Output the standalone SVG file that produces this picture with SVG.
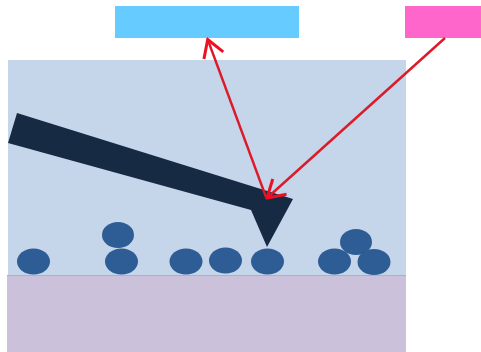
<svg xmlns="http://www.w3.org/2000/svg" width="481" height="352" viewBox="0 0 481 352">
  <defs>
    <style>
      .particle { fill: #2e5c94; }
      .arrow { stroke: #dc1a28; stroke-width: 2.4; fill: none; }
    </style>
    <marker id="head" markerUnits="userSpaceOnUse" viewBox="-20 -12 22 24" markerWidth="22" markerHeight="24" refX="0" refY="0" orient="auto">
      <path d="M-17,-10.3 L0,0 L-17,10.3" fill="none" stroke="#ee1020" stroke-width="3"/>
    </marker>
  </defs>
  <rect width="481" height="352" fill="#ffffff"/>
  <g id="liquid">
    <rect x="8" y="60" width="398" height="215" fill="#c5d5ea"/>
  </g>
  <g id="substrate">
    <rect x="7" y="275" width="399" height="77" fill="#cbc1da"/>
    <line x1="7" y1="275.5" x2="406" y2="275.5" stroke="#a3b3cc" stroke-width="1"/>
  </g>
  <g id="laser">
    <rect x="115" y="6" width="184" height="32" fill="#66ccff"/>
  </g>
  <g id="detector">
    <rect x="405" y="6" width="76" height="32" fill="#ff66cc"/>
  </g>
  <g id="cantilever">
    <polygon points="17,113 293,199 267,247 251,210 8,143" fill="#172a44"/>
  </g>
  <g id="particles">
    <ellipse class="particle" cx="33.5" cy="261.5" rx="16.5" ry="13"/>
    <ellipse class="particle" cx="118" cy="235" rx="16" ry="13"/>
    <ellipse class="particle" cx="121.5" cy="261.5" rx="16.5" ry="13"/>
    <ellipse class="particle" cx="186" cy="261.5" rx="16.5" ry="13"/>
    <ellipse class="particle" cx="225.5" cy="260.5" rx="16.5" ry="13"/>
    <ellipse class="particle" cx="267.5" cy="261.5" rx="16.5" ry="13"/>
    <ellipse class="particle" cx="334.5" cy="261.5" rx="16.5" ry="13"/>
    <ellipse class="particle" cx="356" cy="242" rx="16" ry="13"/>
    <ellipse class="particle" cx="374" cy="262" rx="16.5" ry="13"/>
  </g>
  <g id="connectors">
    <line class="arrow" x1="266" y1="197" x2="207.7" y2="39.5" marker-end="url(#head)"/>
    <line class="arrow" x1="445" y1="38" x2="267" y2="198" marker-end="url(#head)"/>
  </g>
</svg>
